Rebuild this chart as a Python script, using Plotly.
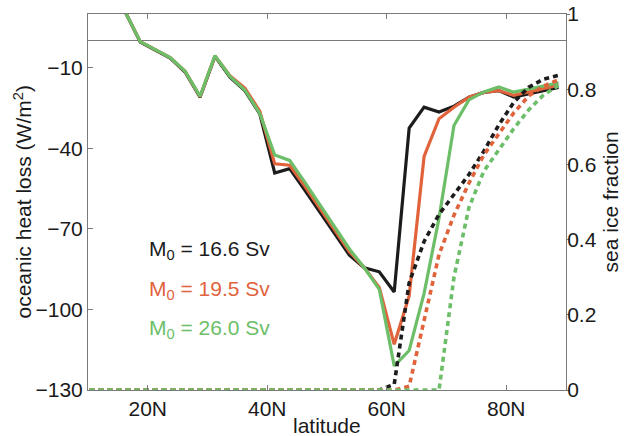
import plotly.graph_objects as go

# latitude grid (degrees N)
lat = [8.75, 11.25, 13.75, 16.25, 18.75, 21.25, 23.75, 26.25, 28.75, 31.25,
       33.75, 36.25, 38.75, 41.25, 43.75, 46.25, 48.75, 51.25, 53.75, 56.25,
       58.75, 61.25, 63.75, 66.25, 68.75, 71.25, 73.75, 76.25, 78.75, 81.25,
       83.75, 86.25, 88.75]

# oceanic heat loss (W/m^2)
heat_166 = [None, None, 28, 10.7, -0.5, -3.5, -6.4, -11.6, -21.0, -5.8,
            -13.5, -18.5, -27.2, -49.2, -47.6, -55.5, -63.5, -72.0, -79.8, -84.5,
            -86.0, -93.5, -32.5, -24.7, -26.5, -24.3, -21.0, -19.2, -18.5, -20.9,
            -19.6, -18.5, -17.3]
heat_195 = [None, None, 28, 10.7, -0.3, -3.3, -6.2, -11.3, -20.8, -5.6,
            -13.0, -17.6, -26.2, -45.8, -46.3, -54.0, -62.0, -70.5, -78.5, -84.5,
            -91.8, -113.0, -95.0, -43.0, -29.0, -24.7, -21.0, -19.2, -18.5, -20.3,
            -19.0, -17.6, -16.5]
heat_260 = [None, None, 28, 10.7, -0.3, -3.3, -6.2, -11.3, -20.6, -5.5,
            -13.2, -18.3, -27.0, -42.5, -44.5, -52.5, -61.0, -69.5, -77.5, -84.5,
            -92.5, -121.0, -115.3, -94.0, -66.0, -31.5, -22.0, -19.0, -17.2, -19.1,
            -17.8, -16.8, -15.6]

# sea ice fraction
ice_166 = [0, 0, 0, 0, 0, 0, 0, 0, 0, 0,
           0, 0, 0, 0, 0, 0, 0, 0, 0, 0,
           0, 0.015, 0.285, 0.395, 0.467, 0.52, 0.573, 0.635, 0.705, 0.765,
           0.805, 0.827, 0.837]
ice_195 = [0, 0, 0, 0, 0, 0, 0, 0, 0, 0,
           0, 0, 0, 0, 0, 0, 0, 0, 0, 0,
           0, 0, 0.01, 0.19, 0.36, 0.465, 0.55, 0.625, 0.68, 0.737,
           0.782, 0.808, 0.825]
ice_260 = [0, 0, 0, 0, 0, 0, 0, 0, 0, 0,
           0, 0, 0, 0, 0, 0, 0, 0, 0, 0,
           0, 0, 0, 0, 0, 0.30, 0.485, 0.582, 0.638, 0.695,
           0.745, 0.785, 0.81]

labels = ["M<sub>0</sub> = 16.6 Sv", "M<sub>0</sub> = 19.5 Sv", "M<sub>0</sub> = 26.0 Sv"]
x_ticks = [20, 40, 60, 80]
x_ticktext = ["20N", "40N", "60N", "80N"]
y_ticks = [-130, -100, -70, -40, -10]
y_ticktext = ["\u2212130", "\u2212100", "\u221270", "\u221240", "\u221210"]
y2_ticks = [0, 0.2, 0.4, 0.6, 0.8, 1]
y2_ticktext = ["0", "0.2", "0.4", "0.6", "0.8", "1"]
x_title = "latitude"
y_title = "oceanic heat loss (W/m<sup>2</sup>)"
y2_title = "sea ice fraction"

colors = ["#1c1c1c", "#E0633C", "#6DBE68"]
FONT = "Liberation Sans, Arial, Helvetica, sans-serif"

fig = go.Figure()
for h, c in zip([heat_166, heat_195, heat_260], colors):
    fig.add_trace(go.Scatter(x=lat, y=h, mode="lines",
                             line=dict(color=c, width=3.2),
                             showlegend=False, yaxis="y"))
for ic, c in zip([ice_166, ice_195, ice_260], colors):
    fig.add_trace(go.Scatter(x=lat, y=ic, mode="lines",
                             line=dict(color=c, width=3.6, dash="5px,4px"),
                             showlegend=False, yaxis="y2"))

ann_y = [0.373, 0.266, 0.162]
for t, c, yy in zip(labels, colors, ann_y):
    fig.add_annotation(x=0.255, y=yy, xref="paper", yref="paper",
                       text=t, showarrow=False, xanchor="center", yanchor="middle",
                       font=dict(family=FONT, size=21, color=c))

# axis titles
fig.add_annotation(x=0.5, y=-0.094, xref="paper", yref="paper", text=x_title,
                   showarrow=False, xanchor="center", yanchor="middle",
                   font=dict(family=FONT, size=21, color="#1a1a1a"))
fig.add_annotation(x=-0.137, y=0.5, xref="paper", yref="paper", text=y_title,
                   textangle=-90, showarrow=False, xanchor="center", yanchor="middle",
                   font=dict(family=FONT, size=21, color="#1a1a1a"))
fig.add_annotation(x=1.093, y=0.5, xref="paper", yref="paper", text=y2_title,
                   textangle=-90, showarrow=False, xanchor="center", yanchor="middle",
                   font=dict(family=FONT, size=21, color="#1a1a1a"))

axis_col = "#7a7a7a"
fig.update_layout(
    width=625, height=436,
    margin=dict(l=88, r=59, t=14, b=46),
    paper_bgcolor="white", plot_bgcolor="white",
    font=dict(family=FONT, size=21, color="#1a1a1a"),
    xaxis=dict(range=[10, 90], tickvals=x_ticks, ticktext=x_ticktext,
               ticks="inside", ticklen=5, tickcolor=axis_col,
               showline=True, linecolor=axis_col, linewidth=1, mirror="ticks",
               showgrid=False, zeroline=False, automargin=False,
               ticklabeloverflow="allow", tickfont=dict(size=21)),
    yaxis=dict(range=[-130, 10], tickvals=y_ticks, ticktext=y_ticktext,
               ticks="inside", ticklen=5, tickcolor=axis_col,
               showline=True, linecolor=axis_col, linewidth=1,
               showgrid=False, zeroline=True, zerolinecolor=axis_col, zerolinewidth=1,
               automargin=False, ticklabeloverflow="allow", tickfont=dict(size=21)),
    yaxis2=dict(range=[0, 1], tickvals=y2_ticks, ticktext=y2_ticktext,
                overlaying="y", side="right",
                ticks="outside", ticklen=3, tickcolor=axis_col,
                showline=True, linecolor=axis_col, linewidth=1,
                showgrid=False, zeroline=False, automargin=False,
                ticklabelstandoff=-7, ticklabeloverflow="allow",
                tickfont=dict(size=21)),
)

# remove the default page margin so the 625x436 figure fills the window exactly
fig.write_html("out.html", config={"displayModeBar": False},
               post_script="document.body.style.margin='0';")
